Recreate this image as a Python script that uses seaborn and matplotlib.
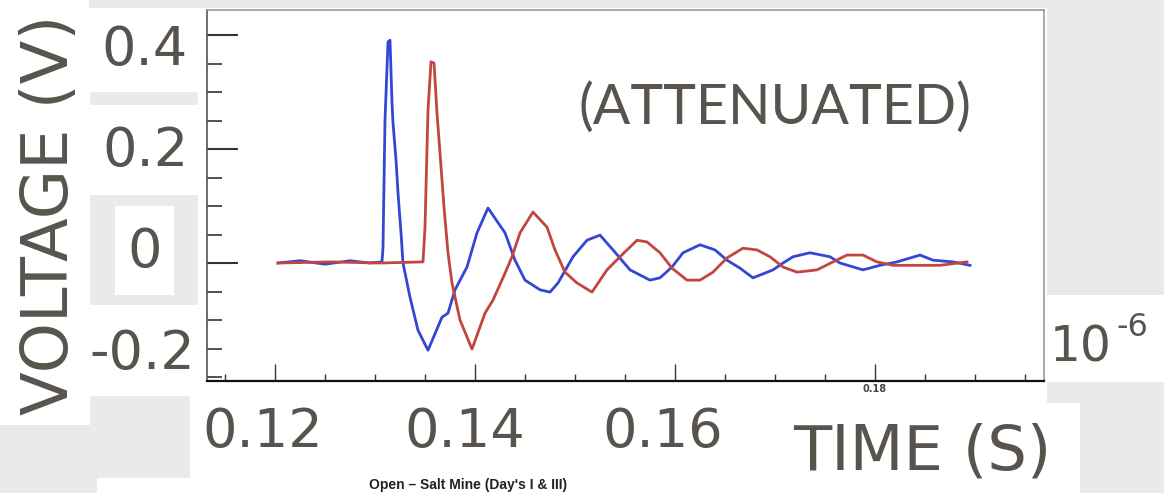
import numpy as np
import pandas as pd
import matplotlib
matplotlib.use("Agg")
import matplotlib.pyplot as plt
from matplotlib.patches import Rectangle
from matplotlib.ticker import MultipleLocator
import seaborn as sns

# ---- data (time in units of 1e-6 s, voltage in V) ----
blue_t = [0.1203, 0.1225, 0.1250, 0.1275, 0.1295, 0.1307, 0.1308, 0.1310, 0.1313,
          0.1315, 0.1317, 0.1318, 0.1321, 0.1323, 0.1326, 0.1328, 0.1335, 0.1343,
          0.1353, 0.1367, 0.1373, 0.1380, 0.1392, 0.1402, 0.1413, 0.1430, 0.1440,
          0.1450, 0.1465, 0.1475, 0.1483, 0.1498, 0.1512, 0.1525, 0.1538, 0.1555,
          0.1575, 0.1585, 0.1597, 0.1608, 0.1625, 0.1640, 0.1652, 0.1665, 0.1678,
          0.1698, 0.1708, 0.1718, 0.1735, 0.1755, 0.1765, 0.1788, 0.1805, 0.1822,
          0.1845, 0.1858, 0.1878, 0.1895]
blue_v = [0.000, 0.004, -0.002, 0.004, 0.000, 0.002, 0.028, 0.251, 0.388,
          0.391, 0.281, 0.246, 0.181, 0.123, 0.053, 0.000, -0.060, -0.118,
          -0.153, -0.095, -0.088, -0.047, -0.007, 0.053, 0.0965, 0.053, 0.005,
          -0.030, -0.047, -0.051, -0.035, 0.011, 0.040, 0.049, 0.023, -0.012,
          -0.030, -0.026, -0.007, 0.018, 0.032, 0.023, 0.005, -0.009, -0.026,
          -0.012, 0.000, 0.011, 0.018, 0.011, 0.000, -0.012, -0.004, 0.002,
          0.014, 0.005, 0.002, -0.004]

red_t = [0.1203, 0.1255, 0.1305, 0.1348, 0.1350, 0.1353, 0.1356, 0.1359, 0.1362,
         0.1365, 0.1369, 0.1373, 0.1377, 0.1385, 0.1397, 0.1410, 0.1418, 0.1430,
         0.1437, 0.1445, 0.1458, 0.1472, 0.1480, 0.1490, 0.1502, 0.1517, 0.1532,
         0.1545, 0.1562, 0.1572, 0.1585, 0.1597, 0.1612, 0.1625, 0.1638, 0.1652,
         0.1668, 0.1682, 0.1695, 0.1708, 0.1722, 0.1742, 0.1758, 0.1772, 0.1788,
         0.1802, 0.1818, 0.1845, 0.1865, 0.1892]
red_v = [0.000, 0.002, 0.000, 0.002, 0.063, 0.268, 0.353, 0.351, 0.263,
         0.193, 0.098, 0.018, -0.035, -0.100, -0.151, -0.088, -0.065, -0.018,
         0.011, 0.053, 0.0895, 0.063, 0.023, -0.016, -0.035, -0.051, -0.012,
         0.011, 0.040, 0.037, 0.018, -0.009, -0.030, -0.030, -0.016, 0.009,
         0.026, 0.023, 0.011, -0.007, -0.016, -0.012, 0.002, 0.014, 0.014,
         0.002, -0.004, -0.004, -0.004, 0.002]

series_names = ["blue", "red"]
series_colors = ["#3446d4", "#c2463f"]

x_major_ticks = [0.12, 0.14, 0.16, 0.18]
x_major_labels = ["", "", "", "0.18"]

overlay_y_labels = ["0.4", "0.2", "0", "-0.2"]
overlay_x_labels = ["0.12", "0.14", "0.16"]

# ---- figure ----
W, H = 1164, 493
fig = plt.figure(figsize=(W / 100, H / 100), dpi=100)
fig.patch.set_facecolor("white")

def fx(px):
    return px / W

def fy(py):
    return 1 - py / H

GRAY = "#e9ebe8"
TXT = "#58534d"

def rect(x0, y0, x1, y1, color):
    fig.patches.append(Rectangle((fx(x0), fy(y1)), fx(x1) - fx(x0), fy(y0) - fy(y1),
                                 transform=fig.transFigure, facecolor=color,
                                 edgecolor="none", zorder=0))

# collage background patches
rect(89, 0, 1164, 8, GRAY)
rect(1047, 0, 1164, 295, GRAY)
rect(90, 92, 198, 105, GRAY)
rect(90, 195, 198, 305, GRAY)
rect(115, 206, 174, 295, "white")
rect(0, 425, 90, 493, GRAY)
rect(90, 396, 190, 493, GRAY)
rect(97, 478, 193, 493, "white")
rect(1047, 382, 1164, 493, GRAY)
rect(778, 403, 1080, 493, "white")

ax = fig.add_axes([fx(207), fy(381), fx(1044) - fx(207), fy(10) - fy(381)])
ax.set_facecolor("white")

df = pd.concat([
    pd.DataFrame({"t": blue_t, "v": blue_v, "s": series_names[0]}),
    pd.DataFrame({"t": red_t, "v": red_v, "s": series_names[1]}),
], ignore_index=True)

sns.lineplot(data=df, x="t", y="v", hue="s", palette=series_colors,
             estimator=None, sort=False, linewidth=2.0, legend=False, ax=ax)

ax.set_xlim(0.1132, 0.1969)
ax.set_ylim(-0.207, 0.444)
ax.set_xlabel("")
ax.set_ylabel("")

ax.set_xticks(x_major_ticks)
ax.set_xticklabels(x_major_labels, fontsize=7, fontweight="bold", color="#444444")
ax.xaxis.set_minor_locator(MultipleLocator(0.005))
ax.set_yticks([0.0, 0.2, 0.4])
ax.set_yticklabels([])
ax.yaxis.set_minor_locator(MultipleLocator(0.05))

ax.tick_params(axis="x", which="major", direction="in", length=12, width=1.0,
               color="#333333", pad=2)
ax.tick_params(axis="x", which="minor", direction="in", length=5, width=1.0,
               color="#333333")
ax.tick_params(axis="y", which="major", direction="in", length=22, width=1.5,
               color="#333333")
ax.tick_params(axis="y", which="minor", direction="in", length=11, width=1.2,
               color="#333333")

ax.spines["bottom"].set_color("#111111")
ax.spines["bottom"].set_linewidth(1.6)
ax.spines["left"].set_color("#555555")
ax.spines["left"].set_linewidth(1.2)
for s in ["top", "right"]:
    ax.spines[s].set_color("#999999")
    ax.spines[s].set_linewidth(1.2)

# ---- overlay labels ----
fig.text(fx(50), fy(215), "VOLTAGE (V)", rotation=90, ha="center", va="center",
         fontsize=46, color=TXT, family="DejaVu Sans")

ypos = [(188, 50), (188, 151), (145, 252), (195, 354)]
for (px, py), lab in zip(ypos, overlay_y_labels):
    ha = "center" if lab == "0" else "right"
    fig.text(fx(px), fy(py), lab, ha=ha, va="center", fontsize=39, color=TXT)

xpos = [263, 465, 663]
for px, lab in zip(xpos, overlay_x_labels):
    fig.text(fx(px), fy(432), lab, ha="center", va="center", fontsize=39, color=TXT)

fig.text(fx(1050), fy(362), "10", ha="left", va="baseline", fontsize=35, color=TXT)
fig.text(fx(1116), fy(336), "-6", ha="left", va="baseline", fontsize=23, color=TXT)

fig.text(fx(922), fy(452), "TIME (S)", ha="center", va="center",
         fontsize=45, color=TXT)

fig.text(fx(775), fy(108), "(ATTENUATED)", ha="center", va="center",
         fontsize=40, color=TXT, family="Lato")

fig.text(fx(468), fy(492), "Open \u2013 Salt Mine (Day's I & III)", ha="center",
         va="bottom", fontsize=10, fontweight="bold", color="#222222",
         family="Liberation Sans")

fig.savefig("out.png", dpi=100, facecolor=fig.get_facecolor())
